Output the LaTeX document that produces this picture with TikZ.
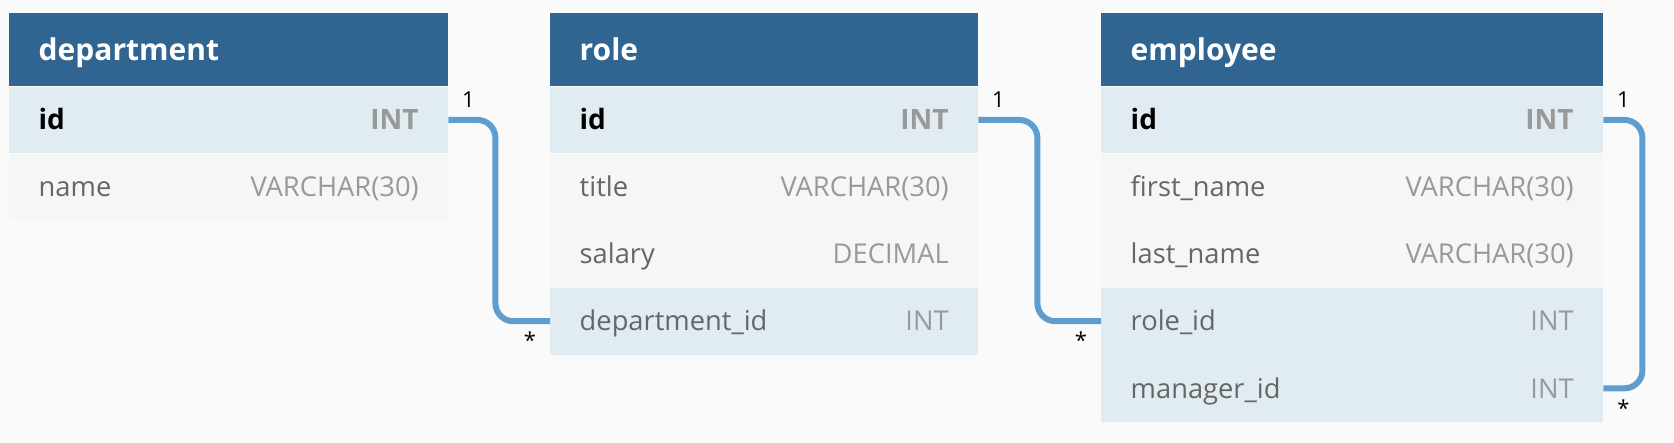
\documentclass[tikz,border=0pt]{standalone}
\usepackage{fontspec}
\setmainfont{Open Sans}
\usetikzlibrary{positioning}
\definecolor{bgcol}{HTML}{FAFAFA}
\definecolor{hdrblue}{HTML}{306591}
\definecolor{keyblue}{HTML}{E0ECF2}
\definecolor{plaingray}{HTML}{F6F6F6}
\definecolor{fieldgray}{HTML}{666666}
\definecolor{typegray}{HTML}{999999}
\definecolor{linkblue}{HTML}{5F9DCF}
\begin{document}
\begin{tikzpicture}[x=1pt,y=-1pt,
    hdr/.style={fill=hdrblue,text=white,anchor=north west,inner xsep=29.5pt,inner ysep=0pt,
        minimum height=73.3pt,text height=24pt,text depth=1.2pt,font=\fontsize{30}{34}\bfseries\selectfont},
    fld/.style={text=fieldgray,inner xsep=29.5pt,inner ysep=0pt,minimum height=66.7pt,
        text height=21pt,text depth=1.6pt,font=\fontsize{27.3}{32}\selectfont,below=0pt of #1},
    key/.style={fld=#1,fill=keyblue},
    plain/.style={fld=#1,fill=plaingray},
    pk/.style={key=#1,text=black,font=\fontsize{28}{32}\bfseries\selectfont},
    link/.style={draw=linkblue,line width=6pt,rounded corners=18pt},
    card/.style={anchor=base,font=\fontsize{22}{26}\selectfont}]
    \fill [bgcol] (0,0) rectangle (1674,443);
    % department
    \node [hdr,text width=380pt] (deptHead) at (9,12.7) {department};
    \node [pk=deptHead,text width=380pt] (deptId) {id\hfill\textcolor{typegray}{INT}};
    \node [plain=deptId,text width=380pt] (deptName) {name\hfill\textcolor{typegray}{VARCHAR(30)}};
    % role
    \node [hdr,text width=369pt] (roleHead) at (550,12.7) {role};
    \node [pk=roleHead,text width=369pt] (roleId) {id\hfill\textcolor{typegray}{INT}};
    \node [plain=roleId,text width=369pt] (roleTitle) {title\hfill\textcolor{typegray}{VARCHAR(30)}};
    \node [plain=roleTitle,text width=369pt] (roleSalary) {salary\hfill\textcolor{typegray}{DECIMAL}};
    \node [key=roleSalary,text width=369pt] (roleDept) {department\_id\hfill\textcolor{typegray}{INT}};
    % employee
    \node [hdr,text width=443pt] (empHead) at (1101,12.7) {employee};
    \node [pk=empHead,text width=443pt] (empId) {id\hfill\textcolor{typegray}{INT}};
    \node [plain=empId,text width=443pt] (empFirst) {first\_name\hfill\textcolor{typegray}{VARCHAR(30)}};
    \node [plain=empFirst,text width=443pt] (empLast) {last\_name\hfill\textcolor{typegray}{VARCHAR(30)}};
    \node [key=empLast,text width=443pt] (empRole) {role\_id\hfill\textcolor{typegray}{INT}};
    \node [key=empRole,text width=443pt] (empMgr) {manager\_id\hfill\textcolor{typegray}{INT}};
    % links
    \draw [link] (deptId.east) -- ++(47,0) |- (roleDept.west);
    \draw [link] (roleId.east) -- ++(59,0) |- (empRole.west);
    \draw [link] (empId.east) -- ++(39,0) |- (empMgr.east);
    \node [card] (one1) at ([xshift=20pt,yshift=12.6pt]deptId.east) {1};
    \node [card] (many1) at ([xshift=-20pt,yshift=-27.7pt]roleDept.west) {*};
    \node [card] (one2) at ([xshift=20pt,yshift=12.6pt]roleId.east) {1};
    \node [card] (many2) at ([xshift=-20pt,yshift=-27.7pt]empRole.west) {*};
    \node [card] (one3) at ([xshift=20pt,yshift=12.6pt]empId.east) {1};
    \node [card] (many3) at ([xshift=20pt,yshift=-27.7pt]empMgr.east) {*};
\end{tikzpicture}
\end{document}
